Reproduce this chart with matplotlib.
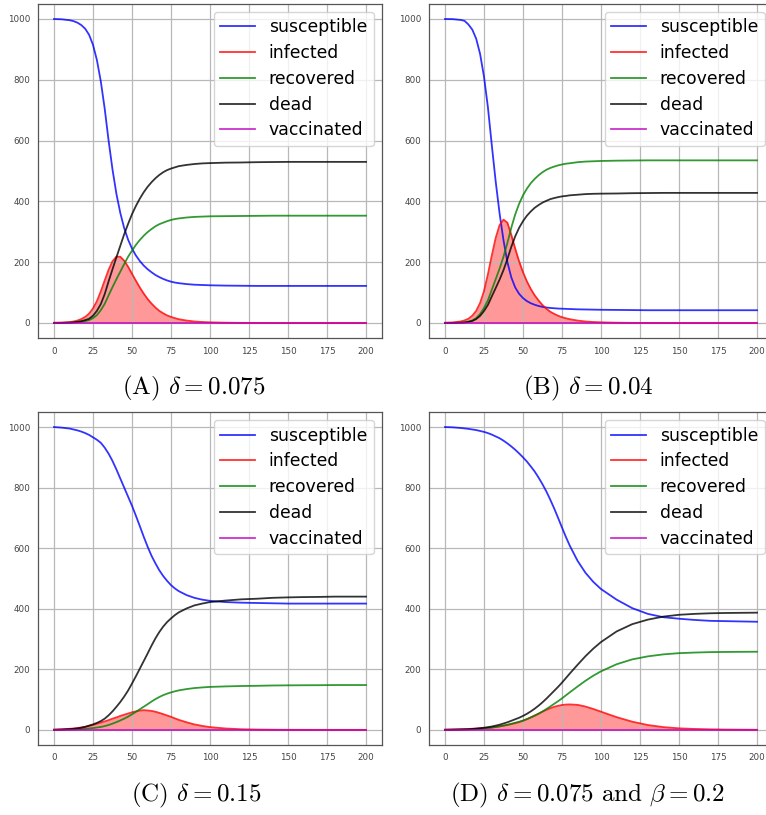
import matplotlib
matplotlib.use("Agg")
import matplotlib.pyplot as plt

days = [0, 5, 10, 12.5, 15, 17.5, 20, 22.5, 25, 27.5, 30, 32.5, 35, 37.5, 40, 42.5, 45, 47.5,
        50, 52.5, 55, 57.5, 60, 62.5, 65, 67.5, 70, 72.5, 75, 77.5, 80, 85, 90, 95, 100,
        110, 120, 130, 140, 150, 160, 170, 180, 190, 200]

# (a) delta = 0.075
sus_a = [1000, 999, 996, 993, 988, 980, 968, 948, 915, 865, 795, 705, 600, 505, 425, 362, 312, 274,
         245, 222, 204, 189, 177, 167, 158, 151, 145, 140, 136, 133, 131, 128, 126, 125, 124,
         123, 122.5, 122, 122, 122, 122, 122, 122, 122, 122]
inf_a = [1, 1.5, 3, 5, 8, 13, 20, 31, 48, 72, 104, 140, 175, 203, 218, 218, 205, 185,
         162, 139, 117, 97, 79, 64, 51, 40, 32, 25, 20, 16, 12.5, 8, 5, 3.3, 2.2,
         1, 0.4, 0.2, 0.1, 0, 0, 0, 0, 0, 0]
rec_a = [0, 0.3, 0.8, 1.4, 2.4, 4, 6.4, 9.6, 16, 26, 42, 63, 91, 118, 144, 169, 194, 218,
         238, 257, 273, 287, 299, 309, 318, 325, 330, 335, 339, 342, 344, 347, 349, 350, 351,
         351.5, 352, 352.5, 353, 353, 353, 353, 353, 353, 353]
dead_a = [0, 0.4, 1.2, 2.1, 3.6, 6, 9.6, 14, 24, 40, 62, 95, 137, 177, 216, 254, 292, 326,
          358, 385, 409, 430, 448, 463, 476, 487, 496, 503, 508, 512, 516, 520, 523, 525, 526,
          527.5, 528, 529, 529.5, 530, 530, 530, 530, 530, 530]

# (b) delta = 0.04
sus_b = [1000, 999.5, 997, 994, 982, 965, 935, 885, 810, 710, 585, 465, 360, 272, 200, 150, 117, 96,
         82, 72, 65, 60, 56, 53, 51, 49.5, 48.5, 47.5, 47, 46.5, 46, 45, 44.5, 44, 43.5,
         43, 42.5, 42, 42, 42, 42, 42, 42, 42, 42]
inf_b = [1, 2, 5, 8.5, 14, 24, 40, 66, 105, 160, 222, 280, 322, 340, 330, 290, 245, 203,
         167, 137, 112, 91, 74, 59, 47, 37, 30, 24, 19, 15.5, 12.5, 8, 5, 3.3, 2.2,
         1, 0.4, 0.2, 0.1, 0, 0, 0, 0, 0, 0]
rec_b = [0, 0.3, 1.1, 1.9, 4.4, 8.3, 16, 29.5, 49.5, 74.5, 109.5, 144, 179, 218, 263.5, 313.5, 357, 392,
         420, 442, 460, 474, 486, 496, 504, 510, 514.5, 518.5, 521.5, 524, 525.5, 529, 531, 532, 533,
         534, 534.5, 535, 535, 535, 535, 535, 535, 535, 535]
dead_b = [0, 0.2, 0.9, 1.6, 3.6, 6.7, 13, 23.5, 39.5, 59.5, 87.5, 115, 143, 174, 210.5, 250.5, 285, 313,
          335, 353, 367, 379, 388, 396, 402, 407.5, 411, 414, 416.5, 418, 420, 422, 424, 425, 425.5,
          426, 427, 427.5, 428, 428, 428, 428, 428, 428, 428]

# (c) delta = 0.15
sus_c = [1000, 998, 995, 992, 989, 985, 980, 974, 966, 958, 948, 932, 912, 888, 860, 830, 800, 770,
         740, 707, 673, 638, 605, 575, 550, 527, 508, 492, 478, 467, 458, 445, 436, 430, 426,
         422, 420, 419, 418, 417, 417, 417, 417, 417, 417]
inf_c = [1, 2, 3.5, 4.5, 6, 8, 10, 13, 16, 20, 24, 28, 32, 37, 41, 46, 50, 54,
         58, 61, 63.5, 65, 64, 62.5, 60, 56, 52, 47.5, 43, 38, 33, 25, 18, 13, 9,
         4.5, 2, 1, 0.5, 0.2, 0.1, 0, 0, 0, 0]
rec_c = [0, 0.3, 0.8, 1.2, 1.7, 2.4, 3.4, 4.7, 6, 7.7, 9.7, 12.4, 16, 20.5, 25.5, 31, 37, 43.7,
         51.4, 59.5, 68, 76.3, 84.7, 93.4, 101.5, 108.5, 114.6, 119.6, 123.6, 127.3, 130.4, 134.7, 138, 140.1, 141.8,
         143.5, 144.8, 145.5, 146.5, 147, 147.3, 147.5, 148, 148, 148]
dead_c = [0, 1, 2.5, 3.5, 5, 7, 10, 14, 18, 23, 29, 37, 48, 61, 76, 92, 110, 130,
          153, 177, 202, 227, 252, 278, 302, 323, 341, 356, 368, 379, 388, 401, 411, 417, 422,
          427, 431, 433, 436, 437.5, 438.5, 439, 440, 440, 440]

# (d) delta = 0.075, beta = 0.2
sus_d = [1000, 999, 997, 995.5, 994, 992, 990, 987, 984, 980, 975, 969, 963, 955, 946, 936, 925, 913,
         900, 886, 870, 853, 833, 811, 787, 760, 731, 700, 668, 637, 608, 558, 519, 489, 465,
         430, 402, 383, 372, 367, 363, 360, 359, 358, 357]
inf_d = [1, 1.5, 2, 2.5, 3, 3.7, 4.5, 5.2, 6, 7, 8, 9.8, 11.8, 14, 16.3, 19, 22, 25.5,
         30, 35.5, 41.5, 47.5, 53.5, 60, 66, 71.5, 76, 79.5, 82, 83.5, 84, 82.5, 77, 69, 60,
         42, 27, 16, 9, 5, 3, 1.7, 1, 0.6, 0.3]
rec_d = [0, 0.3, 0.8, 1.1, 1.3, 2, 2.7, 3.7, 4.7, 6, 7.3, 9.3, 11.3, 14, 16.7, 20, 23.3, 26.7,
         30.7, 35.3, 40.7, 46.7, 53.3, 60.7, 68.7, 77.3, 86, 94.7, 104, 114, 124, 143.3, 162, 178.7, 193.3,
         216.7, 232.7, 242.7, 249.3, 253.3, 255.3, 256.7, 257.3, 257.7, 258]
dead_d = [0, 0.5, 1.2, 1.6, 2, 3, 4, 5.5, 7, 9, 11, 14, 17, 21, 25, 30, 35, 40,
          46, 53, 61, 70, 80, 91, 103, 116, 129, 142, 156, 171, 186, 215, 243, 268, 290,
          325, 349, 364, 374, 380, 383, 385, 386, 386.5, 387]

vaccinated = [0] * len(days)

captions = [r"(A) $\delta = 0.075$", r"(B) $\delta = 0.04$",
            r"(C) $\delta = 0.15$", r"(D) $\delta = 0.075$ and $\beta = 0.2$"]
xticks_vals = [0, 25, 50, 75, 100, 125, 150, 175, 200]
yticks_vals = [0, 200, 400, 600, 800, 1000]

panels = [
    (sus_a, inf_a, rec_a, dead_a),
    (sus_b, inf_b, rec_b, dead_b),
    (sus_c, inf_c, rec_c, dead_c),
    (sus_d, inf_d, rec_d, dead_d),
]

plt.rcParams['mathtext.fontset'] = 'cm'

fig = plt.figure(figsize=(7.66, 8.15), dpi=100)

W, H = 766.0, 815.0
# axes rectangles in pixels: left, top, width, height
rects = [(38.4, 3.8, 343.2, 334.4), (429.4, 3.8, 343.2, 334.4),
         (38.4, 411.9, 343.2, 333.1), (429.4, 411.9, 343.2, 333.1)]
cap_pos = [(194, 388), (588, 388), (196, 795), (587, 795)]

for k, (sus, inf, rec, dead) in enumerate(panels):
    l, t, w, h = rects[k]
    ax = fig.add_axes([l / W, 1 - (t + h) / H, w / W, h / H])
    ax.plot(days, sus, color='b', alpha=0.8, lw=1.3, label='susceptible')
    ax.plot(days, inf, color='r', alpha=0.8, lw=1.3, label='infected')
    ax.plot(days, rec, color='g', alpha=0.8, lw=1.3, label='recovered')
    ax.plot(days, dead, color='k', alpha=0.8, lw=1.3, label='dead')
    ax.plot(days, vaccinated, color='m', alpha=0.8, lw=1.3, label='vaccinated')
    ax.fill_between(days, inf, color='r', alpha=0.4, lw=0)

    ax.set_xlim(-10, 210)
    ax.set_ylim(-50, 1050)
    ax.set_xticks(xticks_vals)
    ax.set_yticks(yticks_vals)
    ax.tick_params(labelsize=6.3, length=0, pad=6, colors='#444444')
    ax.grid(True, color='#b8b8b8', lw=0.9)
    for sp in ax.spines.values():
        sp.set_color('#555555')
        sp.set_linewidth(0.9)
    ax.legend(loc='upper right', fontsize=12.4, labelspacing=0.45, borderaxespad=0.45)

    cx, cy = cap_pos[k]
    fig.text(cx / W, 1 - cy / H, captions[k], ha='center', va='center',
             fontsize=18, family='cmr10')

fig.savefig('out.png', dpi=100)
